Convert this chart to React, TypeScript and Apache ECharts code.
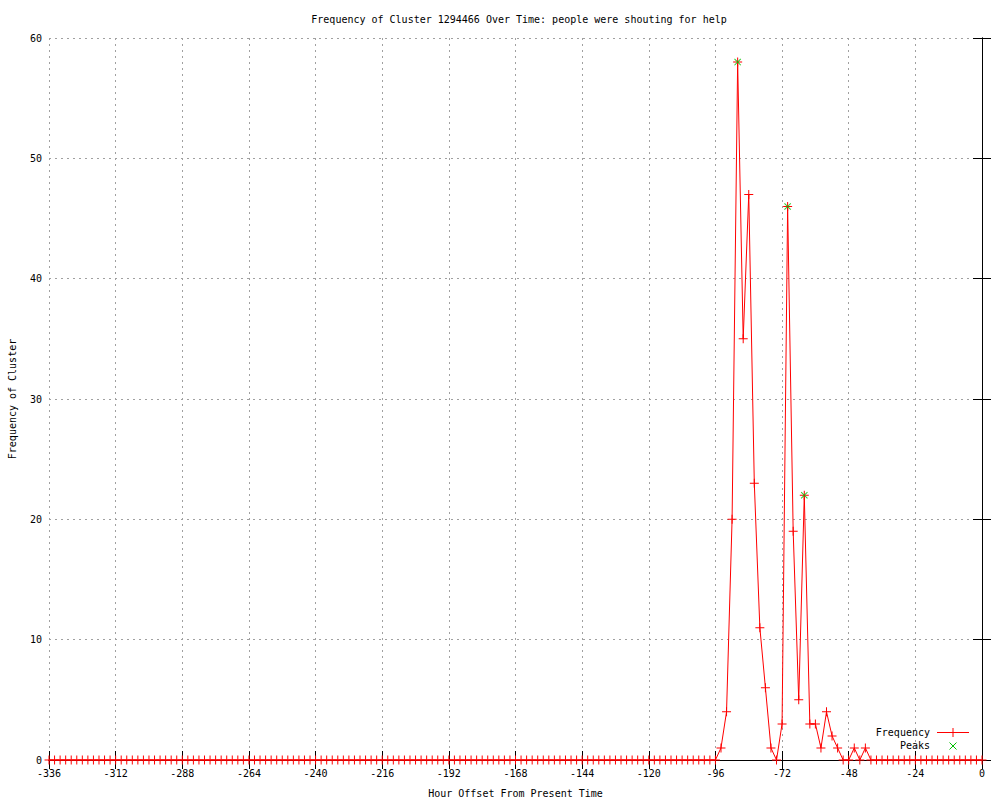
import React, { useEffect, useRef } from "react";
import * as echarts from "echarts";

const TITLE = "Frequency of Cluster 1294466 Over Time: people were shouting for help";
const X_NAME = "Hour Offset From Present Time";
const Y_NAME = "Frequency of Cluster";

// hours from -336 to 0 every 2 hours
const HOUR_START = -336;
const HOUR_STEP = 2;

// frequency for each 2-hour sample from -336 to 0 (169 values)
const frequency: number[] = [
  0, 0, 0, 0, 0, 0, 0, 0, 0, 0, 0, 0, 0, 0, 0, 0, 0, 0, 0, 0, 0, 0, 0, 0,
  0, 0, 0, 0, 0, 0, 0, 0, 0, 0, 0, 0, 0, 0, 0, 0, 0, 0, 0, 0, 0, 0, 0, 0,
  0, 0, 0, 0, 0, 0, 0, 0, 0, 0, 0, 0, 0, 0, 0, 0, 0, 0, 0, 0, 0, 0, 0, 0,
  0, 0, 0, 0, 0, 0, 0, 0, 0, 0, 0, 0, 0, 0, 0, 0, 0, 0, 0, 0, 0, 0, 0, 0,
  0, 0, 0, 0, 0, 0, 0, 0, 0, 0, 0, 0, 0, 0, 0, 0, 0, 0, 0, 0, 0, 0, 0, 0,
  // -96 .. -40
  0, 1, 4, 20, 58, 35, 47, 23, 11, 6, 1, 0, 3, 46, 19, 5, 22, 3, 3, 1, 4, 2, 1, 0, 0, 1, 0, 1, 0,
  // -38 .. 0
  0, 0, 0, 0, 0, 0, 0, 0, 0, 0, 0, 0, 0, 0, 0, 0, 0, 0, 0, 0,
];

const peakHours = [-88, -70, -64];
const peakValues = [58, 46, 22];

const X_MIN = -336;
const X_MAX = 0;
const X_INTERVAL = 24;
const Y_MIN = 0;
const Y_MAX = 60;
const Y_INTERVAL = 10;

const FONT = "DejaVu Sans Mono";
const RED = "#ff0000";
const GREEN = "#00c000";

const PLUS = "path://M4,0h1v4h4v1h-4v4h-1v-4h-4v-1h4z";

export default function App() {
  const ref = useRef<HTMLDivElement>(null);

  useEffect(() => {
    if (!ref.current) return;
    const chart = echarts.init(ref.current, undefined, { renderer: "svg" });

    const freqData = frequency.map((v, i) => [HOUR_START + i * HOUR_STEP, v]);
    const peakData = peakHours.map((h, i) => [h, peakValues[i]]);

    const axisCommon = {
      axisLine: { show: true, lineStyle: { color: "#000", width: 1 } },
      axisTick: { show: true, inside: true, length: 9, lineStyle: { color: "#000", width: 1 } },
    };

    chart.setOption({
      animation: false,
      backgroundColor: "#fff",
      textStyle: { fontFamily: FONT },
      title: {
        text: TITLE,
        left: 514,
        textAlign: "center",
        top: 9,
        textStyle: { fontFamily: FONT, fontSize: 10, fontWeight: "normal", color: "#000" },
      },
      grid: { left: 49, right: 18, top: 38, bottom: 40, containLabel: false, outerBoundsMode: "none" },
      xAxis: [
        {
          type: "value",
          min: X_MIN,
          max: X_MAX,
          interval: X_INTERVAL,
          position: "bottom",
          ...axisCommon,
          axisLabel: { color: "#000", fontFamily: FONT, fontSize: 10, margin: 8 },
          splitLine: { show: true, lineStyle: { color: "#a0a0a0", type: [2, 4], width: 1 } },
          name: X_NAME,
          nameLocation: "middle",
          nameGap: 28,
          nameTextStyle: { color: "#000", fontFamily: FONT, fontSize: 10 },
        },
        {
          type: "value",
          min: X_MIN,
          max: X_MAX,
          interval: X_INTERVAL,
          position: "top",
          ...axisCommon,
          axisLabel: { show: false },
          splitLine: { show: false },
        },
      ],
      yAxis: [
        {
          type: "value",
          min: Y_MIN,
          max: Y_MAX,
          interval: Y_INTERVAL,
          position: "left",
          ...axisCommon,
          axisLabel: { color: "#000", fontFamily: FONT, fontSize: 10, margin: 7 },
          splitLine: { show: true, lineStyle: { color: "#a0a0a0", type: [2, 4], width: 1 } },
          name: Y_NAME,
          nameLocation: "middle",
          nameGap: 32,
          nameRotate: 90,
          nameTextStyle: { color: "#000", fontFamily: FONT, fontSize: 10 },
        },
        {
          type: "value",
          min: Y_MIN,
          max: Y_MAX,
          interval: Y_INTERVAL,
          position: "right",
          ...axisCommon,
          axisLabel: { show: false },
          splitLine: { show: false },
        },
      ],
      series: [
        {
          name: "Frequency",
          type: "line",
          data: freqData,
          xAxisIndex: 0,
          yAxisIndex: 0,
          symbol: PLUS,
          symbolSize: 9,
          showAllSymbol: true,
          lineStyle: { color: RED, width: 1 },
          itemStyle: { color: RED },
          clip: false,
          z: 3,
        },
        {
          name: "Peaks",
          type: "scatter",
          data: peakData,
          xAxisIndex: 0,
          yAxisIndex: 0,
          symbol: PLUS,
          symbolSize: 9,
          symbolRotate: 45,
          itemStyle: { color: GREEN },
          z: 4,
        },
      ],
      graphic: [
        {
          type: "text",
          right: 1000 - 930,
          top: 727,
          style: { text: "Frequency", fill: "#000", font: `10px '${FONT}'`, textAlign: "right" },
        },
        {
          type: "line",
          shape: { x1: 937, y1: 732.5, x2: 969, y2: 732.5 },
          style: { stroke: RED, lineWidth: 1 },
        },
        {
          type: "line",
          shape: { x1: 953, y1: 728, x2: 953, y2: 737 },
          style: { stroke: RED, lineWidth: 1 },
        },
        {
          type: "text",
          right: 1000 - 930,
          top: 740,
          style: { text: "Peaks", fill: "#000", font: `10px '${FONT}'`, textAlign: "right" },
        },
        {
          type: "line",
          shape: { x1: 949.5, y1: 742.5, x2: 956.5, y2: 749.5 },
          style: { stroke: GREEN, lineWidth: 1 },
        },
        {
          type: "line",
          shape: { x1: 956.5, y1: 742.5, x2: 949.5, y2: 749.5 },
          style: { stroke: GREEN, lineWidth: 1 },
        },
      ],
    });

    return () => chart.dispose();
  }, []);

  return <div ref={ref} style={{ width: 1000, height: 800, position: "absolute", left: 0, top: 0 }} />;
}
